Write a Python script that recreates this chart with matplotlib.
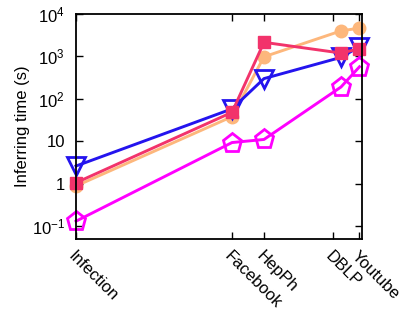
import matplotlib
matplotlib.use("Agg")
import matplotlib.pyplot as plt
from matplotlib.ticker import FixedLocator, FixedFormatter, NullLocator

plt.rcParams["font.family"] = ["Liberation Sans", "DejaVu Sans"]
plt.rcParams["mathtext.default"] = "regular"

datasets = ["Infection", "Facebook", "HepPh", "DBLP", "Youtube"]
# horizontal placement of the datasets (points) and of their labels
point_x = [0, 156, 188, 265, 283.5]
label_x = [0, 156, 188, 257, 283.5]

orange_vals = [0.88, 38, 980, 4000, 4650]
red_vals = [1.05, 48, 2150, 1200, 1520]
blue_vals = [2.6, 58, 300, 950, 1700]
magenta_vals = [0.13, 9.3, 11, 190, 570]

fig = plt.figure(figsize=(4.09, 3.10), dpi=100)
ax = fig.add_axes([0.1858, 0.2290, 0.7005, 0.7258])

ax.plot(point_x, orange_vals, color="#fdb77c", lw=2.1, marker="o", ms=9,
        mec="#fdb77c", clip_on=False, zorder=2)
ax.plot(point_x, blue_vals, color="#2414ee", lw=2.1, marker="v", ms=13,
        mfc="none", mew=2.0, clip_on=False, zorder=2.1)
ax.plot(point_x, red_vals, color="#f2336b", lw=2.1, marker="s", ms=8.5,
        clip_on=False, zorder=2.2)
ax.plot(point_x, magenta_vals, color="#ff00ff", lw=2.1, marker="p", ms=14,
        mfc="none", mew=2.0, clip_on=False, zorder=2.3)

ax.set_yscale("log")
ax.set_ylim(0.0494, 1e4)
ax.set_xlim(0, 286.5)

yt = [0.1, 1, 10, 100, 1000, 10000]
ylabels = ["$10^{-1}$", "1", "10", "$10^{2}$", "$10^{3}$", "$10^{4}$"]
ax.yaxis.set_major_locator(FixedLocator(yt))
ax.yaxis.set_major_formatter(FixedFormatter(ylabels))
ax.yaxis.set_minor_locator(NullLocator())

ax.set_xticks(label_x)
ax.set_xticklabels(datasets, rotation=-45, ha="left", va="top",
                   rotation_mode="anchor")

ax.tick_params(axis="both", which="major", direction="in", length=5,
               width=1.0, top=True, right=True, labelsize=12, pad=8)
ax.tick_params(axis="x", pad=7)
for s in ax.spines.values():
    s.set_linewidth(1.3)

ax.set_ylabel("Inferring time (s)", fontsize=12, labelpad=1)

fig.savefig("out.png", dpi=100)
